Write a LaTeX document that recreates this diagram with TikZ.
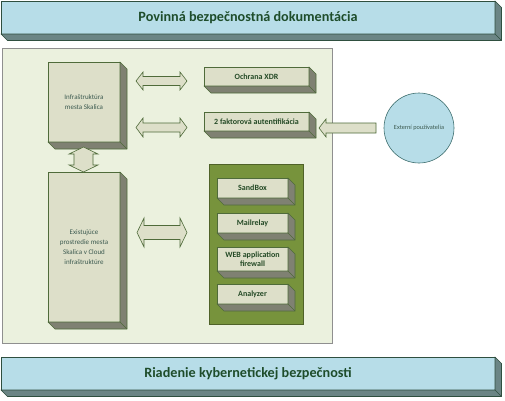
\documentclass[tikz,border=0pt]{standalone}
\usepackage{fontspec}
\setmainfont{Carlito}
\usetikzlibrary{calc}
\definecolor{bannerfill}{HTML}{B7DDE8}
\definecolor{bannerside}{HTML}{6B8585}
\definecolor{bannerline}{HTML}{2F4F3F}
\definecolor{bannertext}{HTML}{1E4D2B}
\definecolor{panelfill}{HTML}{EBF1DE}
\definecolor{panelline}{HTML}{8F8F8F}
\definecolor{boxfill}{HTML}{DDDFC9}
\definecolor{boxside}{HTML}{7F8172}
\definecolor{boxline}{HTML}{4F6B3A}
\definecolor{boxtext}{HTML}{244A26}
\definecolor{softtext}{HTML}{3C5A50}
\definecolor{greenfill}{HTML}{77933C}
\definecolor{greenline}{HTML}{4F6228}
\definecolor{circline}{HTML}{3F6F6F}
\tikzset{
  front/.style={draw=boxline, fill=boxfill, line width=0.6pt, outer sep=0pt, inner sep=1pt, text=boxtext, align=center},
  bannerbox/.style={draw=bannerline, fill=bannerfill, line width=0.6pt, outer sep=0pt, text=bannertext, font=\fontsize{14.2}{16}\selectfont\bfseries},
  sidefaceB/.style={draw=bannerline, fill=bannerside, line width=0.6pt, line join=round},
  sideface/.style={draw=boxline, fill=boxside, line width=0.6pt, line join=round},
  blockarrow/.style={draw=boxline, fill=boxfill, line width=0.6pt, line join=miter},
  smallbold/.style={font=\fontsize{8}{9.5}\selectfont\bfseries},
  smallreg/.style={font=\fontsize{7}{10}\selectfont, text=softtext},
}
% depth faces of a 3-D box: #1 node name, #2 depth, #3 style
\newcommand\depthfaces[3]{%
  \draw[#3] (#1.north east) -- ++(#2,#2) -- ($(#1.south east)+(#2,#2)$) -- ($(#1.south west)+(#2,#2)$) -- (#1.south west) -- (#1.south east) -- cycle;
  \draw[#3, fill=none] (#1.south east) -- ++(#2,#2);}
% horizontal double block arrow: x1, x2, yc, half head, half shaft, head length
\newcommand\hdblarrow[6]{%
  \draw[blockarrow] (#1,#3) -- ({#1+#6},{#3-#4}) -- ({#1+#6},{#3-#5}) -- ({#2-#6},{#3-#5}) -- ({#2-#6},{#3-#4}) -- (#2,#3)
   -- ({#2-#6},{#3+#4}) -- ({#2-#6},{#3+#5}) -- ({#1+#6},{#3+#5}) -- ({#1+#6},{#3+#4}) -- cycle;}
% vertical double block arrow: y1, y2, xc, half head, half shaft, head length
\newcommand\vdblarrow[6]{%
  \draw[blockarrow] (#3,#1) -- ({#3+#4},{#1+#6}) -- ({#3+#5},{#1+#6}) -- ({#3+#5},{#2-#6}) -- ({#3+#4},{#2-#6}) -- (#3,#2)
   -- ({#3-#4},{#2-#6}) -- ({#3-#5},{#2-#6}) -- ({#3-#5},{#1+#6}) -- ({#3-#4},{#1+#6}) -- cycle;}
\begin{document}
\begin{tikzpicture}[x=1pt,y=-1pt]
\useasboundingbox (0,0) rectangle (505,400);
\fill[white] (0,0) rectangle (505,400);

% banners
\node[bannerbox, minimum width=494pt, minimum height=33pt] (top) at (248,17.5) {Povinná bezpečnostná dokumentácia};
\depthfaces{top}{6.5}{sidefaceB}
\node[bannerbox, minimum width=494pt, minimum height=33pt] (bottom) at (248,373.5) {Riadenie kybernetickej bezpečnosti};
\depthfaces{bottom}{6.5}{sidefaceB}

% main panel
\node[draw=panelline, fill=panelfill, line width=0.8pt, minimum width=330pt, minimum height=295pt, outer sep=0pt] (panel) at (167,195.5) {};

% left boxes
\node[front, smallreg, minimum width=72pt, minimum height=80pt] (infra) at (84,102) {Infraštruktúra\\mesta Skalica};
\depthfaces{infra}{7}{sideface}
\node[front, smallreg, minimum width=72pt, minimum height=150pt] (exist) at (84,247) {Existujúce\\prostredie mesta\\Skalica v Cloud\\infraštruktúre};
\depthfaces{exist}{7}{sideface}

% right boxes
\node[front, smallbold, minimum width=105pt, minimum height=19pt] (xdr) at (256.5,76.5) {Ochrana XDR};
\depthfaces{xdr}{7}{sideface}
\node[front, smallbold, minimum width=105pt, minimum height=19pt] (twofa) at (256.5,121.5) {2 faktorová autentifikácia};
\depthfaces{twofa}{7}{sideface}

% green container
\node[draw=greenline, fill=greenfill, line width=0.8pt, minimum width=94pt, minimum height=160pt, outer sep=0pt] (group) at (256,244) {};
\node[front, smallbold, minimum width=71pt, minimum height=20pt] (sandbox) at (252.5,188) {SandBox};
\depthfaces{sandbox}{7}{sideface}
\node[front, smallbold, minimum width=71pt, minimum height=20pt] (mail) at (252.5,223) {Mailrelay};
\depthfaces{mail}{7}{sideface}
\node[front, smallbold, minimum width=71pt, minimum height=24pt] (waf) at (252.5,259) {WEB application\\firewall};
\depthfaces{waf}{7}{sideface}
\node[front, smallbold, minimum width=71pt, minimum height=20pt] (analyzer) at (252.5,294) {Analyzer};
\depthfaces{analyzer}{7}{sideface}

% external users
\node[circle, draw=circline, fill=bannerfill, line width=0.6pt, minimum size=70pt, inner sep=0pt, font=\fontsize{6.3}{7}\selectfont, text=softtext] (ext) at (419,128) {Externí používatelia};

% block arrows
\hdblarrow{136}{187}{81}{9}{4.5}{7}
\hdblarrow{136}{187}{127.5}{9.5}{4.5}{7}
\hdblarrow{137}{187}{232.5}{14.5}{7}{7}
\vdblarrow{147}{172}{83.5}{14.5}{9.5}{7}
\draw[blockarrow] (319,128) -- (326,119) -- (326,123) -- (376,123) -- (376,133) -- (326,133) -- (326,137) -- cycle;
\end{tikzpicture}
\end{document}
